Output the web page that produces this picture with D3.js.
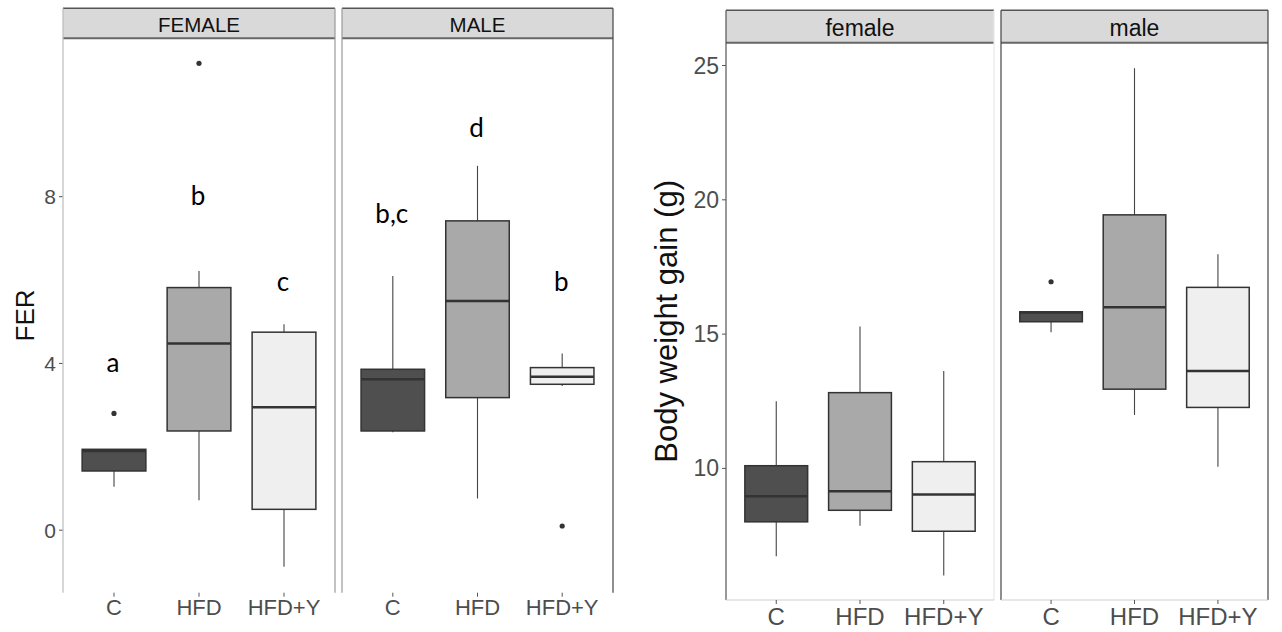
<!DOCTYPE html>
<html>
<head>
<meta charset="utf-8">
<script src="https://cdn.jsdelivr.net/npm/d3@7"></script>
<style>
  body { margin: 0; background: #fff; }
  svg { display: block; font-family: "Liberation Sans", Arial, sans-serif; }
</style>
</head>
<body>
<svg id="chart" width="1282" height="632"></svg>
<script>
const groups = ["C", "HFD", "HFD+Y"];
const fills = ["#4f4f4f", "#a9a9a9", "#efefef"];

// FER, box stats per group: [lowWhisker, q1, median, q3, highWhisker]
const ferFemaleBox = [[1.04, 1.42, 1.9, 1.94, 1.94], [0.72, 2.38, 4.48, 5.82, 6.22], [-0.88, 0.5, 2.95, 4.75, 4.94]];
const ferFemaleOut = [[2.8], [11.2], []];
const ferFemaleLetters = ["a", "b", "c"];
const ferFemaleLetterY = [4.04, 8.04, 5.98];

const ferMaleBox = [[2.35, 2.38, 3.62, 3.86, 6.1], [0.76, 3.18, 5.5, 7.42, 8.74], [3.46, 3.5, 3.68, 3.9, 4.24]];
const ferMaleOut = [[], [], [0.1]];
const ferMaleLetters = ["b,c", "d", "b"];
const ferMaleLetterY = [7.6, 9.68, 5.98];

const ferTicks = [0, 4, 8];

// Body weight gain (g)
const bwFemaleBox = [[6.73, 8.01, 8.96, 10.1, 12.5], [7.86, 8.44, 9.15, 12.82, 15.28], [6.01, 7.66, 9.03, 10.25, 13.63]];
const bwFemaleOut = [[], [], []];
const bwMaleBox = [[15.07, 15.46, 15.8, 15.83, 15.83], [11.99, 12.95, 16.0, 19.44, 24.9], [10.06, 12.27, 13.63, 16.74, 17.97]];
const bwMaleOut = [[16.95], [], []];

const bwTicks = [10, 15, 20, 25];

const svg = d3.select("#chart");

function drawChart(cfg) {
  const y = d3.scaleLinear().domain(cfg.yDomain).range([cfg.bottom, cfg.plotTop]);
  const g = svg.append("g");
  const axisX = cfg.panels[0].x0;

  // y axis ticks + labels
  cfg.ticks.forEach(t => {
    g.append("line")
      .attr("x1", axisX - 4).attr("x2", axisX)
      .attr("y1", y(t)).attr("y2", y(t))
      .attr("stroke", "#555").attr("stroke-width", 1);
    g.append("text")
      .attr("x", axisX - 7).attr("y", y(t))
      .attr("text-anchor", "end")
      .attr("dominant-baseline", "central")
      .attr("fill", "#4d4d4d")
      .attr("font-size", cfg.tickSize)
      .text(t);
  });

  g.append("text")
    .attr("text-anchor", "middle")
    .attr("fill", "#111")
    .attr("font-size", cfg.titleSize)
    .attr("transform", `translate(${cfg.titleX},${(cfg.plotTop + cfg.bottom) / 2}) rotate(-90)`)
    .attr("dominant-baseline", "central")
    .text(cfg.title);

  cfg.panels.forEach(p => {
    const x = d3.scalePoint().domain(groups).range([p.x0, p.x1]).padding(0.6);
    const bw = x.step() * 0.75;
    const pg = g.append("g");

    // strip
    pg.append("rect")
      .attr("x", p.x0).attr("y", cfg.stripTop)
      .attr("width", p.x1 - p.x0).attr("height", cfg.plotTop - cfg.stripTop)
      .attr("fill", "#d9d9d9");
    pg.append("line")
      .attr("x1", p.x0).attr("x2", p.x1).attr("y1", cfg.stripTop).attr("y2", cfg.stripTop)
      .attr("stroke", "#555").attr("stroke-width", 1.5);
    pg.append("line")
      .attr("x1", p.x0).attr("x2", p.x1).attr("y1", cfg.plotTop).attr("y2", cfg.plotTop)
      .attr("stroke", "#666").attr("stroke-width", 2);
    pg.append("text")
      .attr("x", (p.x0 + p.x1) / 2).attr("y", (cfg.stripTop + cfg.plotTop) / 2 + 1)
      .attr("text-anchor", "middle")
      .attr("dominant-baseline", "central")
      .attr("fill", "#111")
      .attr("font-size", cfg.stripSize)
      .text(p.label);

    // panel edges
    pg.append("line")
      .attr("x1", p.x0).attr("x2", p.x0).attr("y1", cfg.stripTop).attr("y2", cfg.bottom)
      .attr("stroke", p.leftColor).attr("stroke-width", 1.2);
    pg.append("line")
      .attr("x1", p.x1).attr("x2", p.x1).attr("y1", cfg.stripTop).attr("y2", cfg.bottom)
      .attr("stroke", p.rightColor).attr("stroke-width", 1.2);
    if (cfg.bottomLine) {
      pg.append("line")
        .attr("x1", p.x0).attr("x2", p.x1).attr("y1", cfg.bottom).attr("y2", cfg.bottom)
        .attr("stroke", "#d0d0d0").attr("stroke-width", 1.2);
    }

    // x ticks + labels
    groups.forEach(gr => {
      pg.append("line")
        .attr("x1", x(gr)).attr("x2", x(gr))
        .attr("y1", cfg.bottom).attr("y2", cfg.bottom + 4)
        .attr("stroke", "#555");
      pg.append("text")
        .attr("x", x(gr)).attr("y", cfg.xLabelBase)
        .attr("text-anchor", "middle")
        .attr("fill", "#4d4d4d")
        .attr("font-size", cfg.xLabelSize)
        .text(gr);
    });

    // boxes
    const boxes = pg.selectAll("g.box")
      .data(p.box.map((s, i) => ({ s, i, grp: groups[i] })))
      .enter().append("g").attr("class", "box");

    boxes.append("line")
      .attr("x1", d => x(d.grp)).attr("x2", d => x(d.grp))
      .attr("y1", d => y(d.s[4])).attr("y2", d => y(d.s[3]))
      .attr("stroke", "#444").attr("stroke-width", 1.1);
    boxes.append("line")
      .attr("x1", d => x(d.grp)).attr("x2", d => x(d.grp))
      .attr("y1", d => y(d.s[1])).attr("y2", d => y(d.s[0]))
      .attr("stroke", "#444").attr("stroke-width", 1.1);
    boxes.append("rect")
      .attr("x", d => x(d.grp) - bw / 2)
      .attr("width", bw)
      .attr("y", d => y(d.s[3]))
      .attr("height", d => y(d.s[1]) - y(d.s[3]))
      .attr("fill", d => fills[d.i])
      .attr("stroke", "#333").attr("stroke-width", 1.5);
    boxes.append("line")
      .attr("x1", d => x(d.grp) - bw / 2).attr("x2", d => x(d.grp) + bw / 2)
      .attr("y1", d => y(d.s[2])).attr("y2", d => y(d.s[2]))
      .attr("stroke", "#333").attr("stroke-width", 2.5);

    p.out.forEach((vals, i) => {
      vals.forEach(v => {
        pg.append("circle")
          .attr("cx", x(groups[i])).attr("cy", y(v)).attr("r", 2.6)
          .attr("fill", "#333");
      });
    });

    if (p.letters) {
      p.letters.forEach((l, i) => {
        pg.append("text")
          .attr("x", x(groups[i]) - 1)
          .attr("y", y(p.letterY[i]))
          .attr("text-anchor", "middle")
          .attr("dominant-baseline", "central")
          .attr("font-family", "Lato, 'Open Sans', sans-serif")
          .attr("font-size", 26)
          .attr("fill", "#000")
          .text(l);
      });
    }
  });
}

drawChart({
  yDomain: [-1.5, 11.8], ticks: ferTicks,
  stripTop: 8.3, plotTop: 38.3, bottom: 592.7,
  title: "FER", titleX: 25, titleSize: 26,
  tickSize: 21, stripSize: 20.5, xLabelSize: 22, xLabelBase: 615,
  bottomLine: false,
  panels: [
    { label: "FEMALE", x0: 63, x1: 335, box: ferFemaleBox, out: ferFemaleOut,
      letters: ferFemaleLetters, letterY: ferFemaleLetterY, leftColor: "#bbb", rightColor: "#999" },
    { label: "MALE", x0: 342, x1: 613, box: ferMaleBox, out: ferMaleOut,
      letters: ferMaleLetters, letterY: ferMaleLetterY, leftColor: "#999", rightColor: "#444" }
  ]
});

drawChart({
  yDomain: [5.1, 25.85], ticks: bwTicks,
  stripTop: 10.3, plotTop: 42.7, bottom: 600,
  title: "Body weight gain (g)", titleX: 666, titleSize: 31,
  tickSize: 23, stripSize: 23, xLabelSize: 24, xLabelBase: 625,
  bottomLine: true,
  panels: [
    { label: "female", x0: 726, x1: 994, box: bwFemaleBox, out: bwFemaleOut, leftColor: "#555", rightColor: "#e8e8e8" },
    { label: "male", x0: 1001, x1: 1268, box: bwMaleBox, out: bwMaleOut, leftColor: "#444", rightColor: "#444" }
  ]
});
</script>
</body>
</html>
